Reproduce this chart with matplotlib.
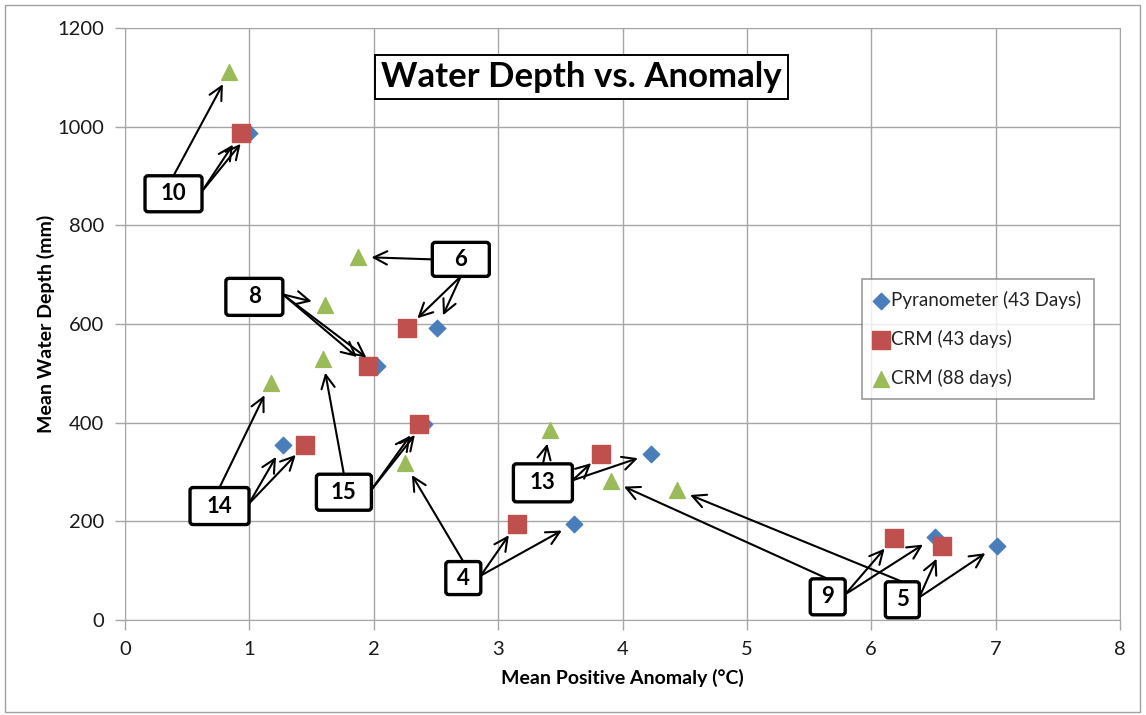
import matplotlib
matplotlib.use('Agg')
import matplotlib.pyplot as plt
from matplotlib.patches import Rectangle, FancyBboxPatch
from matplotlib.transforms import ScaledTranslation

plt.rcParams['font.family'] = ['Lato', 'DejaVu Sans']

# sites, in the order used for every series
sites = ['10', '6', '8', '15', '14', '4', '13', '9', '5']

# Pyranometer (43 Days)
pyr_x = [1.00, 2.51, 2.03, 2.40, 1.27, 3.61, 4.23, 6.51, 7.01]
pyr_y = [987, 592, 515, 397, 355, 195, 337, 168, 151]

# CRM (43 days)
crm43_x = [0.93, 2.27, 1.95, 2.36, 1.45, 3.15, 3.83, 6.18, 6.57]
crm43_y = [987, 592, 515, 397, 355, 195, 337, 166, 150]

# CRM (88 days)
crm88_x = [0.84, 1.87, 1.61, 1.59, 1.17, 2.25, 3.42, 3.91, 4.44]
crm88_y = [1111, 736, 639, 529, 481, 318, 385, 282, 264]

x_ticks = [0, 1, 2, 3, 4, 5, 6, 7, 8]
y_ticks = [0, 200, 400, 600, 800, 1000, 1200]

# label box centre (data units), box size in px, and where each arrow leaves the box
# side codes: t=top, r=right, l=left, b=bottom ; one per series (pyr, crm43, crm88)
boxes = {
    '10': ((0.39, 864), (57, 36), ('r', 'r', 't')),
    '6':  ((2.70, 731), (57, 34), ('b', 'b', 'l')),
    '8':  ((1.04, 655), (57, 37), ('r', 'r', 'r')),
    '15': ((1.76, 259), (55, 36), ('r', 'r', 't')),
    '14': ((0.76, 231), (59, 37), ('r', 'r', 't')),
    '4':  ((2.72, 85), (35, 33), ('r', 'r', 't')),
    '13': ((3.36, 278), (59, 38), ('r', 'r', 't')),
    '9':  ((5.65, 47), (35, 36), ('r', 'r', 't')),
    '5':  ((6.25, 41), (34, 36), ('r', 'r', 't')),
}

blue = '#4a7ebb'
red = '#c0504d'
green = '#9bbb59'
grid_c = '#a6a6a6'

fig = plt.figure(figsize=(11.46, 7.15), dpi=100)
ax = fig.add_axes([125/1146, 1 - 620/715, 995/1146, 592/715])

ax.scatter(pyr_x, pyr_y, marker='D', s=70, color=blue, label='Pyranometer (43 Days)', zorder=3)
ax.scatter(crm43_x, crm43_y, marker='s', s=150, color=red, label='CRM (43 days)', zorder=3)
ax.scatter(crm88_x, crm88_y, marker='^', s=130, color=green, label='CRM (88 days)', zorder=3)

ax.set_xlim(0, 8)
ax.set_ylim(0, 1200)
ax.set_xticks(x_ticks)
ax.set_yticks(y_ticks)
ax.grid(True, color=grid_c, lw=1)
ax.set_axisbelow(True)
for s in ax.spines.values():
    s.set_color(grid_c)
ax.tick_params(colors=grid_c, labelcolor='#1a1a1a', labelsize=14.5, length=7, width=1)
ax.tick_params(axis='y', pad=8)
ax.tick_params(axis='x', pad=8)

ax.set_xlabel('Mean Positive Anomaly (°C)', fontsize=14, fontweight='bold', labelpad=8)
ax.set_ylabel('Mean Water Depth (mm)', fontsize=14, fontweight='bold', labelpad=2)

ax.text(0.459, 0.917, 'Water Depth vs. Anomaly', transform=ax.transAxes, ha='center', va='center',
        fontsize=25, fontweight='bold',
        bbox=dict(boxstyle='square,pad=0.18', fc='white', ec='black', lw=1.4), zorder=5)

series = [(pyr_x, pyr_y), (crm43_x, crm43_y), (crm88_x, crm88_y)]
for i, name in enumerate(sites):
    (bx, by), (wpx, hpx), sides = boxes[name]
    # box drawn in inches around the data point
    trans = fig.dpi_scale_trans + ScaledTranslation(bx, by, ax.transData)
    w_in, h_in = wpx / 100, hpx / 100
    ax.add_patch(FancyBboxPatch((-w_in / 2, -h_in / 2), w_in, h_in,
                                boxstyle='round,pad=0,rounding_size=0.03', transform=trans,
                                fc='white', ec='black', lw=2.4, zorder=6))
    ax.text(bx, by, name, ha='center', va='center', fontsize=16, fontweight='bold', zorder=7)
    w = wpx / 2 / 124.4
    hh = hpx / 2 / 0.4933
    for (sx, sy), side in zip(series, sides):
        if side == 't':
            start = (bx, by + hh)
        elif side == 'b':
            start = (bx, by - hh)
        elif side == 'l':
            start = (bx - w, by)
        else:
            start = (bx + w, by + 5)
        ax.annotate('', xy=(sx[i], sy[i]), xytext=start,
                    arrowprops=dict(arrowstyle='->', lw=1.5, color='black', shrinkA=0, shrinkB=10,
                                    mutation_scale=24), zorder=4)

leg = ax.legend(loc='upper left', bbox_to_anchor=(0.741, 0.576), borderaxespad=0, fontsize=13.5,
                frameon=True, fancybox=False, edgecolor='#808080', handletextpad=0.2,
                handlelength=0.7, labelspacing=1.1, borderpad=0.65, scatterpoints=1)
leg.get_frame().set_linewidth(1.2)
for t in leg.get_texts():
    t.set_color('#222222')

fig.patches.append(Rectangle((5/1146, 3/715), 1135/1146, 707/715, transform=fig.transFigure,
                             fill=False, ec='#a0a0a0', lw=1))

fig.savefig('out.png', dpi=100)
